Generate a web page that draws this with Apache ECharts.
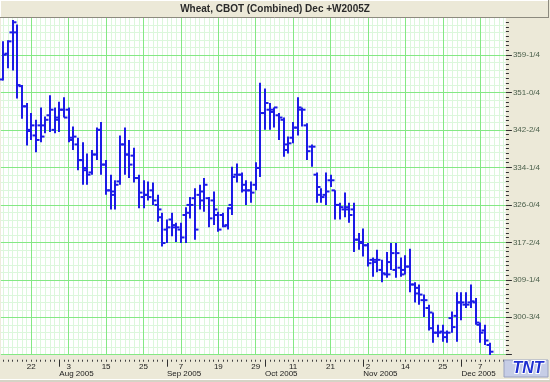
<!DOCTYPE html>
<html><head><meta charset="utf-8">
<script src="https://cdn.jsdelivr.net/npm/echarts@6/dist/echarts.min.js"></script>
<style>html,body{margin:0;padding:0;background:#ece9d8}#c{width:550px;height:382px}</style>
</head><body><div id="c"></div>
<script>
// ---- data ----
const dates = [
'2005-07-14','2005-07-15','2005-07-18','2005-07-19','2005-07-20','2005-07-21','2005-07-22','2005-07-25','2005-07-26','2005-07-27','2005-07-28','2005-07-29',
'2005-08-01','2005-08-02','2005-08-03','2005-08-04','2005-08-05','2005-08-08','2005-08-09','2005-08-10','2005-08-11','2005-08-12','2005-08-15','2005-08-16','2005-08-17','2005-08-18','2005-08-19','2005-08-22','2005-08-23','2005-08-24','2005-08-25','2005-08-26','2005-08-29','2005-08-30','2005-08-31',
'2005-09-01','2005-09-02','2005-09-06','2005-09-07','2005-09-08','2005-09-09','2005-09-12','2005-09-13','2005-09-14','2005-09-15','2005-09-16','2005-09-19','2005-09-20','2005-09-21','2005-09-22','2005-09-23','2005-09-26','2005-09-27','2005-09-28','2005-09-29','2005-09-30',
'2005-10-03','2005-10-04','2005-10-05','2005-10-06','2005-10-07','2005-10-10','2005-10-11','2005-10-12','2005-10-13','2005-10-14','2005-10-17','2005-10-18','2005-10-19','2005-10-20','2005-10-21','2005-10-24','2005-10-25','2005-10-26','2005-10-27','2005-10-28','2005-10-31',
'2005-11-01','2005-11-02','2005-11-03','2005-11-04','2005-11-07','2005-11-08','2005-11-09','2005-11-10','2005-11-11','2005-11-14','2005-11-15','2005-11-16','2005-11-17','2005-11-18','2005-11-21','2005-11-22','2005-11-23','2005-11-25','2005-11-28','2005-11-29','2005-11-30',
'2005-12-01','2005-12-02','2005-12-05','2005-12-06','2005-12-07','2005-12-08','2005-12-09'];

const openVals = [
354.0,359.75,364.5,364.5,352.5,348.0,342.75,341.5,343.75,343.75,
346.0,342.75,345.0,347.25,347.25,340.5,339.5,336.0,333.75,333.25,
337.25,342.75,335.0,329.25,328.25,331.25,339.5,337.25,337.0,332.0,
327.75,328.25,329.25,326.0,323.25,320.5,322.75,321.0,320.5,323.75,
326.0,327.5,328.25,329.0,327.5,327.0,323.75,323.75,321.5,326.0,
332.75,332.75,330.5,329.25,330.5,334.25,346.5,347.25,346.75,346.0,
345.0,339.5,341.0,343.25,347.25,343.75,339.0,332.75,328.25,328.25,
331.5,329.25,326.0,325.0,325.0,325.0,318.25,317.5,317.0,313.75,
313.25,311.5,310.5,313.25,311.5,312.0,311.5,312.25,308.25,306.25,
304.75,303.0,298.5,297.5,297.75,297.5,300.75,301.25,304.25,303.75,
304.25,304.25,299.25,298.0,294.75];
const highVals = [
362.5,362.75,367.25,366.25,352.75,348.75,346.5,345.0,347.75,345.75,
350.5,347.75,349.0,350.0,347.75,343.5,341.0,340.0,337.5,338.25,
343.25,344.5,336.0,332.75,331.5,341.5,343.25,340.5,338.75,332.75,
331.5,331.25,331.0,328.25,324.25,322.75,324.25,322.0,322.0,325.5,
327.75,329.75,330.5,332.0,327.75,329.0,324.5,324.25,325.5,334.5,
335.25,333.25,331.5,331.25,335.5,353.25,352.0,348.75,347.75,346.5,
345.5,341.25,344.5,350.0,347.75,344.25,339.5,333.25,329.75,333.25,
332.75,329.25,326.5,328.75,326.5,326.5,319.75,320.75,317.5,314.25,
316.0,313.75,315.5,317.5,317.5,314.25,314.75,316.25,308.75,308.25,
306.0,303.75,302.0,299.25,299.25,298.0,302.25,306.5,306.5,306.5,
308.25,305.25,299.75,299.25,295.25];
const lowVals = [
353.75,356.5,356.0,349.75,345.25,339.25,340.5,337.75,340.0,342.0,
342.25,342.0,342.25,345.5,340.0,338.25,333.75,330.5,330.5,332.75,
336.0,332.75,328.25,325.0,325.0,330.5,332.75,332.0,331.0,325.25,
325.25,327.0,326.0,322.25,316.75,317.5,319.0,317.75,317.5,317.5,
323.0,318.25,325.0,324.5,321.0,321.5,320.0,321.0,320.5,323.75,
331.0,328.75,326.0,326.5,329.25,332.25,342.75,342.75,343.25,340.5,
336.75,337.5,339.75,341.5,343.5,336.0,334.5,326.5,326.5,326.0,
330.0,322.75,322.75,323.25,322.0,315.5,316.0,314.5,312.25,310.0,
311.0,308.75,309.75,311.5,309.75,310.0,310.5,306.5,304.25,303.75,
301.0,298.0,295.25,296.5,295.5,295.25,297.5,295.5,300.25,303.0,
303.0,299.25,295.25,294.75,292.5];
const closeVals = [
359.5,362.5,366.75,352.75,348.0,342.5,343.75,340.5,341.25,345.0,
347.25,345.5,347.25,345.5,341.0,341.25,336.0,334.25,332.75,337.25,
342.75,335.0,329.25,329.0,330.5,339.5,337.25,335.0,332.0,328.75,
328.25,327.75,327.0,325.0,317.5,321.0,321.5,321.0,318.75,324.25,
326.0,320.5,327.0,330.5,323.0,325.0,320.5,321.25,325.25,332.25,
332.75,329.25,329.25,328.75,334.25,346.5,348.75,347.25,347.75,345.5,
338.25,339.75,343.25,347.75,347.25,338.0,339.0,330.0,327.75,329.0,
331.5,326.0,325.5,325.5,323.75,318.25,317.75,317.0,313.0,313.75,
313.75,310.75,310.5,315.25,315.25,310.5,312.25,308.25,307.5,306.0,
304.75,302.0,297.5,297.5,296.5,297.5,298.75,304.25,304.25,303.75,
304.5,299.75,297.5,295.75,293.25];

const yTickLabels = ['300-3/4','309-1/4','317-2/4','326-0/4','334-1/4','342-2/4','351-0/4','359-1/4'];
const monthLabels = ['Aug 2005','Sep 2005','Oct 2005','Nov 2005','Dec 2005'];
const titleText = 'Wheat, CBOT (Combined) Dec +W2005Z';

// ---- layout helpers ----
const padSlots = 3;
const cats = dates.concat(Array(padSlots).fill(''));
const firstDayLabelIdx = 6, dayLabelEvery = 8;
const isMajor = (i) => i >= firstDayLabelIdx && (i - firstDayLabelIdx) % dayLabelEvery === 0 && i < dates.length;
const monthStarts = [];
dates.forEach((d, i) => { if (i > 0 && d.slice(5, 7) !== dates[i - 1].slice(5, 7)) monthStarts.push(i); });
const isMonthStart = (i) => monthStarts.indexOf(i) >= 0;
const yStep = 8.35939;
const FONT = '"Liberation Sans", Arial, sans-serif';
const majorGreen = '#84e884', minorGreen = '#dcf7dc';
const gridLeft = 0.9, gridRight = 44.1, gridTop = 17.53, gridBottom = 27.27;

const chart = echarts.init(document.getElementById('c'), null, {renderer: 'canvas'});
const baseX = {type: 'category', data: cats, boundaryGap: true, position: 'bottom', offset: 5,
  axisLine: {show: false}};
const baseY = {type: 'value', position: 'right', min: 35 * yStep, max: 44 * yStep, interval: yStep, axisLine: {show: false}};

chart.setOption({
  animation: false,
  backgroundColor: '#ece9d8',
  grid: {left: gridLeft, right: gridRight, top: gridTop, bottom: gridBottom, containLabel: false,
    show: true, backgroundColor: '#ffffff', borderWidth: 0},
  xAxis: [
    Object.assign({}, baseX, {
      z: 0,
      axisTick: {show: true, interval: 0, alignWithLabel: true, length: 2, lineStyle: {color: '#404040'}},
      axisLabel: {show: false},
      splitLine: {show: true, interval: 0, alignWithLabel: true, lineStyle: {color: minorGreen, width: 1}}
    }),
    Object.assign({}, baseX, {
      z: 2,
      axisTick: {show: false},
      axisLabel: {show: true, interval: (i) => isMajor(i), margin: 3, fontSize: 8, fontFamily: FONT, color: '#1a1a1a',
        formatter: (v) => v ? String(parseInt(v.slice(8), 10)) : ''},
      splitLine: {show: true, interval: (i) => isMajor(i), alignWithLabel: true, lineStyle: {color: majorGreen, width: 1}}
    }),
    Object.assign({}, baseX, {
      z: 2,
      axisTick: {show: true, interval: (i) => isMonthStart(i), alignWithLabel: true, length: 7, lineStyle: {color: '#303030'}},
      axisLabel: {show: true, interval: (i) => isMonthStart(i), margin: 10, fontSize: 8, fontFamily: FONT, color: '#1a1a1a', align: 'left',
        formatter: (v, idx) => { const k = monthStarts.indexOf(idx); return k >= 0 ? monthLabels[k] : ''; }},
      splitLine: {show: false}
    })
  ],
  yAxis: [
    Object.assign({}, baseY, {
      z: 1,
      axisTick: {show: false}, axisLabel: {show: false}, minorTick: {show: false},
      splitLine: {show: true, lineStyle: {color: majorGreen, width: 1}},
      minorSplitLine: {show: true, lineStyle: {color: minorGreen, width: 1}}
    }),
    Object.assign({}, baseY, {
      z: 60,
      axisTick: {show: true, length: 6, lineStyle: {color: '#303030'}},
      minorTick: {show: true, splitNumber: 8, length: 3, lineStyle: {color: '#303030'}},
      axisLabel: {margin: 7, fontSize: 8, fontFamily: FONT, color: '#4a5f4a',
        formatter: (v) => { const k = Math.round(v / yStep) - 36; return yTickLabels[k] || ''; }},
      splitLine: {show: false}, minorSplitLine: {show: false}
    })
  ],
  series: [{
    type: 'custom', xAxisIndex: 0, yAxisIndex: 0, z: 5,
    encode: {x: 0, y: [1, 2, 3, 4]},
    data: dates.map((d, i) => [i, openVals[i], highVals[i], lowVals[i], closeVals[i]]),
    renderItem: (params, api) => {
      const i = api.value(0);
      const pO = api.coord([i, api.value(1)]);
      const pH = api.coord([i, api.value(2)]);
      const pL = api.coord([i, api.value(3)]);
      const pC = api.coord([i, api.value(4)]);
      const x = Math.round(pH[0]);
      const st = {stroke: '#1c1ce6', lineWidth: 2};
      return {type: 'group', children: [
        {type: 'line', shape: {x1: x, y1: pH[1], x2: x, y2: pL[1]}, style: st},
        {type: 'line', shape: {x1: x - 3.5, y1: pO[1], x2: x, y2: pO[1]}, style: st},
        {type: 'line', shape: {x1: x, y1: pC[1], x2: x + 3.5, y2: pC[1]}, style: st}
      ]};
    }
  }],
  graphic: [
    // beige margin right of the plot (keeps the plot area ending at the grid edge)
    {type: 'rect', z: 50, shape: {x: 550 - gridRight, y: 17, width: gridRight, height: 342}, style: {fill: '#ece9d8'}},
    {type: 'rect', z: 100, shape: {x: 0, y: 0, width: 549, height: 18}, style: {fill: '#ece9d8'}},
    {type: 'line', z: 101, shape: {x1: 0, y1: 0.5, x2: 548, y2: 0.5}, style: {stroke: '#ffffff', lineWidth: 1}},
    {type: 'line', z: 101, shape: {x1: 0.5, y1: 0, x2: 0.5, y2: 17}, style: {stroke: '#ffffff', lineWidth: 1}},
    {type: 'line', z: 101, shape: {x1: 0, y1: 17.5, x2: 549, y2: 17.5}, style: {stroke: '#8c8a7e', lineWidth: 1}},
    {type: 'line', z: 101, shape: {x1: 548.5, y1: 0, x2: 548.5, y2: 18}, style: {stroke: '#8c8a7e', lineWidth: 1}},
    {type: 'text', z: 102, x: 275, y: 9.5, style: {text: titleText, font: 'bold 10px ' + FONT, fill: '#2a2a2a', align: 'center', verticalAlign: 'middle'}},
    {type: 'rect', z: 100, shape: {x: 504, y: 360, width: 44, height: 17}, style: {fill: '#c6cde6', stroke: '#9aa2c0', lineWidth: 1}},
    {type: 'text', z: 102, x: 528, y: 369, style: {text: 'TNT', font: 'italic bold 16px ' + FONT, fill: '#1f2fd0', stroke: '#ffffff', lineWidth: 2, align: 'center', verticalAlign: 'middle'}},
    {type: 'line', z: 100, shape: {x1: 0, y1: 379.5, x2: 549, y2: 379.5}, style: {stroke: '#ffffff', lineWidth: 1}},
    {type: 'rect', z: 100, shape: {x: 0, y: 380, width: 550, height: 2}, style: {fill: '#d6d3c6'}}
  ]
});
</script></body></html>
